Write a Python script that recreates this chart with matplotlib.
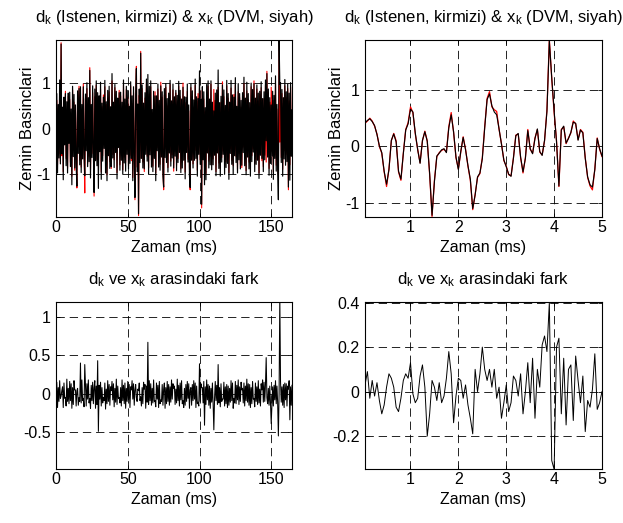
"""
plot.py: d_k / x_k karsilastirma figuru (4 panel, MATLAB tarzi)
"""

import numpy as np
import matplotlib
matplotlib.use("Agg")
import matplotlib.pyplot as plt
from matplotlib.ticker import FormatStrFormatter

plt.rcParams["font.family"] = ["Liberation Sans", "DejaVu Sans"]
plt.rcParams["mathtext.default"] = "regular"
plt.rcParams["lines.scale_dashes"] = False
plt.rcParams["axes.unicode_minus"] = False

# ---- veri ----
DT_ZOOM = 0.05          # ms, yakin plan ornekleme araligi
T_END = 164.4           # ms, tum kayit

# yakin plan (0.05 - 5 ms): d_k (kirmizi)
d_zoom = [0.41, 0.45, 0.50, 0.45, 0.36, 0.22, 0.00, -0.12, -0.45, -0.71,
          -0.40, 0.10, 0.23, 0.10, -0.45, -0.60, -0.12, 0.30, 0.42, 0.70,
          0.60, 0.22, -0.05, -0.29, 0.10, 0.27, 0.10, -0.50, -1.24, -0.60,
          -0.18, -0.11, -0.07, -0.05, -0.10, 0.35, 0.60, 0.25, -0.20, -0.40,
          -0.10, 0.17, -0.05, -0.35, -0.60, -1.12, -0.85, -0.55, -0.48, -0.20,
          0.35, 0.85, 0.97, 0.70, 0.65, 0.62, 0.30, 0.05, -0.25, -0.35,
          -0.50, -0.52, -0.20, 0.20, 0.22, -0.20, -0.47, -0.20, 0.30, -0.05,
          -0.12, 0.15, 0.30, -0.10, -0.15, 0.10, 0.65, 1.89, 1.20, 0.60,
          0.10, -0.71, 0.30, 0.35, 0.05, 0.15, 0.24, 0.45, 0.40, 0.12,
          0.30, 0.25, -0.20, -0.55, -0.70, -0.77, -0.40, 0.15, -0.05, -0.18]
# yakin plan: x_k (siyah)
x_zoom = [0.42, 0.46, 0.49, 0.44, 0.37, 0.21, 0.01, -0.11, -0.44, -0.67,
          -0.41, 0.11, 0.22, 0.08, -0.44, -0.58, -0.13, 0.29, 0.40, 0.66,
          0.61, 0.24, -0.06, -0.30, 0.11, 0.26, 0.09, -0.48, -1.22, -0.62,
          -0.17, -0.12, -0.06, -0.04, -0.11, 0.33, 0.56, 0.26, -0.19, -0.41,
          -0.09, 0.16, -0.06, -0.34, -0.58, -1.10, -0.86, -0.54, -0.47, -0.22,
          0.33, 0.83, 0.93, 0.72, 0.61, 0.56, 0.31, 0.04, -0.24, -0.36,
          -0.49, -0.53, -0.21, 0.19, 0.23, -0.19, -0.45, -0.21, 0.28, -0.04,
          -0.13, 0.14, 0.31, -0.09, -0.16, 0.11, 0.62, 1.87, 1.22, 0.63,
          0.08, -0.70, 0.29, 0.36, 0.06, 0.14, 0.25, 0.43, 0.41, 0.11,
          0.29, 0.24, -0.21, -0.54, -0.68, -0.72, -0.41, 0.14, -0.04, -0.17]
# yakin plan: fark
e_zoom = [0.03, 0.09, -0.03, 0.05, -0.02, 0.04, -0.04, -0.10, -0.06, 0.02,
          0.08, 0.06, 0.02, -0.07, -0.09, -0.03, 0.05, 0.08, 0.06, 0.13,
          -0.01, -0.05, -0.03, 0.07, 0.12, 0.02, -0.20, -0.10, 0.05, 0.02,
          -0.04, 0.04, -0.05, -0.02, 0.06, 0.18, 0.08, -0.14, -0.02, 0.06,
          0.05, -0.03, 0.03, -0.06, -0.12, -0.19, 0.10, 0.00, 0.08, 0.20,
          0.10, 0.05, 0.10, 0.02, 0.10, -0.03, 0.02, -0.12, -0.05, 0.03,
          -0.09, -0.05, 0.07, 0.05, -0.02, 0.08, -0.10, 0.00, 0.13, -0.05,
          0.15, -0.12, 0.10, 0.02, 0.21, 0.25, 0.18, 0.40, -0.31, -0.35,
          0.20, 0.24, -0.10, 0.15, -0.15, 0.10, 0.12, -0.13, 0.16, 0.05,
          -0.05, 0.07, -0.18, -0.04, -0.07, 0.01, 0.17, -0.08, -0.05, 0.00]

# tum kayit (0 - 164.4 ms), seyrek okunmus: d_k
d_full = [
    -0.35, 0.62, -0.80, 0.45, -0.55, 0.90, -0.72, 1.89, -0.60, 0.38,
    -0.95, 0.55, -0.30, 0.82, -0.66, 0.40, -0.88, 0.71, -0.20, 0.64,
    -0.75, 0.30, -1.05, 0.85, -0.48, 0.58, -0.92, 0.47, -0.62, -1.31,
    0.76, -0.40, 0.93, -0.70, 0.52, -0.85, 0.35, -0.58, 0.98, -0.45,
    -1.42, 0.66, -0.33, 0.88, -0.77, 0.50, -0.61, 1.34, -0.90, 0.42,
    -0.55, 0.79, -0.38, -1.49, 0.70, -0.52, 0.95, -0.68, 0.36, -0.83,
    0.61, -0.44, 0.87, -0.96, 0.48, -0.60, 0.74, -0.35, 0.92, -0.78,
    0.53, -1.02, 0.67, -0.50, 0.81, -0.73, 0.39, -0.88, 1.05, -0.57,
    0.45, -0.69, 0.90, -0.42, 0.63, -0.97, 0.57, -0.36, 0.84, -0.80,
    0.72, -0.54, 0.40, -0.91, 0.96, -0.63, 0.51, -0.75, 0.86, -0.47,
    0.68, -0.82, 0.37, -0.59, 0.94, -0.71, 0.55, -1.08, 0.79, -0.43,
    -1.57, 0.62, 1.37, -0.85, 0.48, -1.92, 0.73, -0.66, 1.70, -0.50,
    0.88, -0.74, 0.41, -0.95, 0.67, -0.38, 0.99, -0.61, 0.52, -0.87,
    0.76, -0.49, 0.92, -0.70, 0.35, -0.83, 0.64, -0.56, 0.81, -0.98,
    0.58, -0.42, 0.87, -0.67, 0.46, -0.79, 1.02, -0.53, 0.69, -0.90,
    -1.35, 0.74, -0.45, 0.91, -0.62, 0.50, -0.86, 0.66, -0.39, 0.97,
    -0.72, 0.43, -0.58, 0.85, -0.94, 0.60, -0.47, 0.78, -0.81, 0.54,
    -0.66, 0.93, -0.37, 0.70, -0.89, 0.48, -0.74, 1.00, -0.52, 0.63,
    -0.96, 0.57, -0.43, 0.82, -0.68, 0.39, -0.85, -1.35, 0.90, -0.55,
    0.71, -0.78, 0.46, -0.63, 0.95, -0.48, 0.60, -0.92, 0.77, -0.41,
    0.88, -0.69, 0.52, -1.75, 0.84, -0.57, 0.65, -0.83, 0.37, -0.99,
    0.79, -0.46, 0.93, -0.72, 0.55, -0.61, 0.98, -0.80, 0.44, -0.67,
    0.86, -0.53, 0.62, -0.95, 0.74, -0.40, 0.91, -0.76, 0.49, -0.88,
    0.58, -0.64, 1.03, -0.50, 0.70, -0.85, 0.42, -0.73, 0.94, -0.59,
    0.67, -0.97, 0.51, -0.44, 0.89, -0.70, 0.60, -0.82, 0.75, -0.48,
    0.96, -0.62, 0.38, -0.90, 0.81, -0.55, 0.68, -0.79, 0.47, -0.86,
    0.72, -0.41, 0.99, -0.66, 0.57, -0.93, 0.83, -0.52, 0.64, -0.74,
    0.45, -0.87, 0.92, -0.60, 0.70, -0.45, 1.05, -0.78, 0.53, -0.69,
    0.87, -0.56, 0.61, -0.98, 0.76, -0.43, 0.90, -0.71, 0.48, -0.84,
    0.66, -0.59, 0.95, -0.74, 1.26, -0.50, 0.80, -0.88, 0.58, -0.65,
    0.91, -0.47, 0.73, -0.96, 0.62, -0.58, 0.99, -0.81, 0.43, -0.70,
    -1.02, 1.96, -0.30, 0.85, -0.64, 0.77, -0.90, 0.56, -0.49, 0.94,
    -0.73, 0.68, -0.57, 0.88, -1.35, 0.61, -0.80, 0.92, -0.46, 0.30,
]
# tum kayit: fark (x_k - d_k)
e_full = [
    -0.12, 0.15, -0.18, 0.08, -0.10, 0.17, -0.06, -0.03, 0.04, 0.09,
    -0.18, 0.14, -0.06, -0.05, -0.16, 0.19, -0.10, 0.07, -0.13, 0.16,
    -0.09, 0.13, -0.19, 0.08, -0.14, 0.17, 0.05, 0.05, -0.16, 0.04,
    0.07, -0.15, -0.05, -0.10, 0.40, -0.12, 0.18, -0.09, -0.06, -0.17,
    0.38, 0.10, -0.16, 0.13, -0.07, 0.18, -0.12, -0.06, -0.19, 0.11,
    -0.09, 0.15, -0.13, 0.08, 0.17, -0.19, 0.10, -0.14, 0.43, -0.49,
    0.11, -0.07, 0.15, -0.16, 0.08, -0.12, -0.05, -0.09, 0.14, -0.20,
    0.06, -0.13, 0.17, -0.10, 0.12, -0.15, 0.09, 0.04, 0.16, -0.08,
    0.13, -0.17, 0.07, -0.11, 0.19, -0.14, 0.10, -0.06, -0.05, -0.12,
    0.08, -0.16, 0.18, -0.09, 0.11, -0.13, 0.14, -0.19, 0.07, -0.10,
    0.16, -0.08, 0.12, -0.18, 0.09, 0.05, 0.17, -0.07, 0.13, -0.15,
    0.05, 0.12, -0.05, -0.10, 0.06, 0.04, 0.14, -0.09, -0.04, -0.16,
    0.08, -0.13, 0.15, 0.06, 0.12, -0.19, 0.10, -0.11, 0.67, -0.14,
    0.17, -0.09, 0.13, -0.15, 0.07, -0.12, 0.18, -0.10, -0.09, -0.17,
    0.14, -0.07, 0.11, -0.18, 0.16, -0.13, -0.08, -0.10, 0.12, -0.15,
    0.06, 0.14, -0.19, 0.08, -0.13, 0.16, -0.10, 0.12, -0.15, 0.09,
    -0.11, 0.18, -0.07, 0.13, 0.07, 0.10, -0.14, 0.06, -0.12, 0.19,
    -0.09, 0.11, -0.16, 0.14, -0.08, 0.17, -0.13, -0.09, -0.18, 0.07,
    -0.15, 0.12, -0.10, 0.16, -0.06, 0.13, -0.19, 0.05, 0.08, -0.15,
    0.12, -0.09, 0.17, -0.07, 0.14, -0.18, 0.10, -0.13, -0.11, -0.16,
    0.39, -0.10, 0.13, 0.08, 0.08, -0.12, 0.16, -0.41, 0.09, -0.14,
    0.18, -0.08, 0.12, -0.15, 0.10, -0.19, 0.07, -0.11, 0.14, -0.13,
    -0.47, -0.06, 0.16, -0.09, 0.11, -0.14, 0.38, -0.12, 0.08, -0.17,
    0.13, -0.10, -0.07, -0.07, 0.15, -0.16, 0.09, -0.13, 0.12, -0.18,
    0.10, -0.15, 0.07, -0.11, 0.17, -0.09, 0.14, -0.19, -0.06, -0.12,
    0.16, -0.13, 0.11, -0.08, 0.18, -0.14, 0.09, -0.10, 0.15, 0.05,
    0.07, -0.12, 0.14, -0.16, 0.10, -0.09, 0.19, -0.11, 0.13, -0.15,
    0.12, -0.18, 0.08, -0.13, 0.16, -0.07, -0.06, -0.17, 0.14, -0.10,
    0.09, -0.14, 0.17, -0.12, 0.06, -0.16, 0.13, 0.05, 0.18, -0.11,
    0.15, -0.10, 0.12, 0.47, -0.05, -0.13, 0.07, -0.15, 0.10, -0.12,
    -0.39, -0.14, 0.09, -0.16, 0.11, -0.08, 0.17, -0.13, 0.10, -0.12,
    -0.55, 0.00, 1.27, 0.16, -0.11, 0.09, -0.15, 0.12, -0.18, 0.14,
    -0.08, 0.13, -0.16, 0.10, 0.06, 0.17, -0.34, 0.09, -0.15, 0.11,
]

TITLE_TOP = r"d$_k$ (Istenen, kirmizi) & x$_k$ (DVM, siyah)"
TITLE_BOT = r"d$_k$ ve x$_k$ arasindaki fark"
XLABEL = "Zaman (ms)"
YLABEL = "Zemin Basinclari"


def style_axes(ax, xlim, ylim, xticks, yticks, title):
    ax.set_xlim(*xlim)
    ax.set_ylim(*ylim)
    ax.set_xticks(xticks)
    ax.set_yticks(yticks)
    # MATLAB gibi: 0 -> "0", 0.5 -> "0.5"
    ax.xaxis.set_major_formatter(FormatStrFormatter("%g"))
    ax.yaxis.set_major_formatter(FormatStrFormatter("%g"))
    ax.grid(True, color="black", linestyle=(0, (6, 3.5)), linewidth=0.6)
    ax.tick_params(direction="in", length=3, width=0.6, top=True,
                   right=True, labelsize=11.5)
    ax.tick_params(axis="x", pad=2)
    ax.tick_params(axis="y", pad=4)
    for sp in ax.spines.values():
        sp.set_linewidth(0.8)
    ax.set_xlabel(XLABEL, fontsize=11.5, labelpad=4)
    ax.set_title(title, fontsize=12, pad=13)


def main() -> None:
    d_zoom_a = np.array(d_zoom)
    x_zoom_a = np.array(x_zoom)
    e_zoom_a = np.array(e_zoom)
    t_zoom = DT_ZOOM * np.arange(1, len(d_zoom_a) + 1)

    d_full_a = np.array(d_full)
    e_full_a = np.array(e_full)
    x_full_a = d_full_a + e_full_a
    t_full = np.linspace(0.05, T_END, len(d_full_a))

    fig = plt.figure(figsize=(6.23, 5.23), dpi=100)
    ax_tl = fig.add_axes([0.0899, 0.5851, 0.3788, 0.3384])
    ax_tr = fig.add_axes([0.5859, 0.5851, 0.3804, 0.3384])
    ax_bl = fig.add_axes([0.0899, 0.1033, 0.3788, 0.3193])
    ax_br = fig.add_axes([0.5859, 0.1033, 0.3804, 0.3193])

    # ust sol: tum kayit
    ax_tl.plot(t_full, d_full_a, color="red", linewidth=0.8)
    ax_tl.plot(t_full, x_full_a, color="black", linewidth=0.85)
    style_axes(ax_tl, (0, T_END), (-1.95, 1.95), [0, 50, 100, 150],
               [-1, 0, 1], TITLE_TOP)
    ax_tl.set_ylabel(YLABEL, fontsize=12, labelpad=1)

    # ust sag: ilk 5 ms
    ax_tr.plot(t_zoom, d_zoom_a, color="red", linewidth=0.9)
    ax_tr.plot(t_zoom, x_zoom_a, color="black", linewidth=0.8)
    style_axes(ax_tr, (0.05, 5), (-1.25, 1.885), [1, 2, 3, 4, 5],
               [-1, 0, 1], TITLE_TOP)
    ax_tr.set_ylabel(YLABEL, fontsize=12, labelpad=1)

    # alt sol: fark, tum kayit
    ax_bl.plot(t_full, e_full_a, color="black", linewidth=0.75)
    style_axes(ax_bl, (0, T_END), (-0.98, 1.195), [0, 50, 100, 150],
               [-0.5, 0, 0.5, 1], TITLE_BOT)

    # alt sag: fark, ilk 5 ms
    ax_br.plot(t_zoom, e_zoom_a, color="black", linewidth=0.7)
    style_axes(ax_br, (0.05, 5), (-0.348, 0.403), [1, 2, 3, 4, 5],
               [-0.2, 0, 0.2, 0.4], TITLE_BOT)

    fig.savefig("out.png", dpi=100)
    plt.close(fig)


if __name__ == "__main__":
    main()
